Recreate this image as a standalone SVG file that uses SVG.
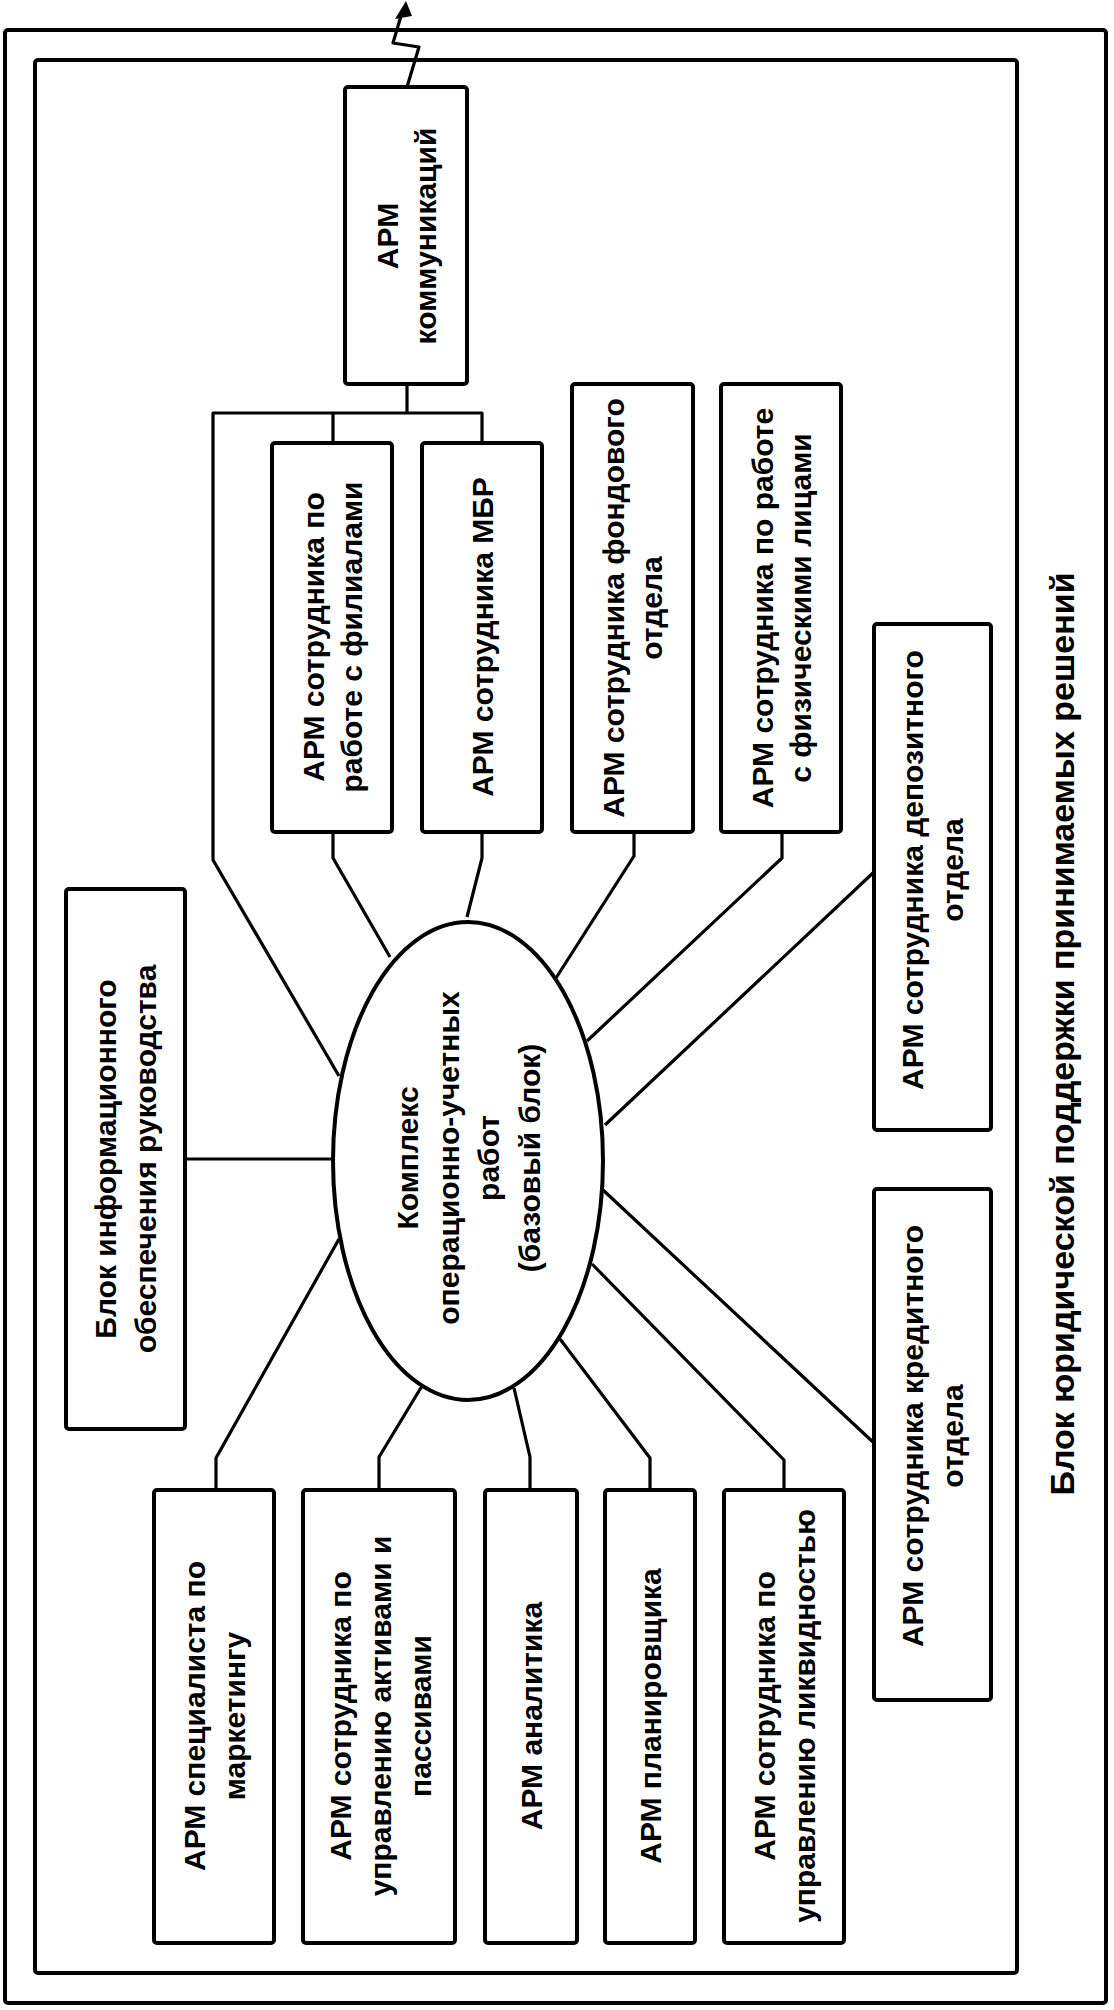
<svg xmlns="http://www.w3.org/2000/svg" width="1114" height="2010" viewBox="0 0 1114 2010">
<style>
.frame{fill:none;stroke:#000;stroke-width:4}
.box{fill:#fff;stroke:#000;stroke-width:4}
.ln{fill:none;stroke:#000;stroke-width:3.2;stroke-linejoin:round}
.t{font-family:"Liberation Sans",Arial,sans-serif;font-weight:bold;font-size:30px;text-anchor:middle;dominant-baseline:central;fill:#000}
.big{font-size:34px}
</style>
<rect width="1114" height="2010" fill="#fff"/>
<g id="frame-outer">
<rect class="frame" x="5" y="30" width="1101" height="1973" rx="3"/>
<text class="t big" transform="translate(1062,1034) rotate(-90)"><tspan x="0" y="0">Блок юридической поддержки принимаемых решений</tspan></text>
</g>
<g id="frame-inner">
<rect class="frame" x="35" y="60" width="982" height="1913" rx="3"/>
</g>
<g id="connectors">
<polyline class="ln" points="407,87 419,47 393,43 401,16"/>
<polygon points="406,1 395,19 412,16" fill="#000"/>
<polyline class="ln" points="407,384 407,413"/>
<polyline class="ln" points="333,443 333,413 213,413 213,860 339,1076"/>
<polyline class="ln" points="333,413 482,413 482,443"/>
<polyline class="ln" points="333,832 333,858 390,957"/>
<polyline class="ln" points="482,832 482,858 467,917"/>
<polyline class="ln" points="634,832 634,856 556,978"/>
<polyline class="ln" points="782,832 782,858 587,1041"/>
<polyline class="ln" points="874,872 605,1125"/>
<polyline class="ln" points="603,1190 874,1443"/>
<polyline class="ln" points="185,1159 333,1159"/>
<polyline class="ln" points="216,1490 216,1458 339,1239"/>
<polyline class="ln" points="379,1490 379,1457 422,1386"/>
<polyline class="ln" points="530,1490 530,1457 514,1388"/>
<polyline class="ln" points="650,1490 650,1458 560,1339"/>
<polyline class="ln" points="784,1490 784,1460 592,1264"/>
</g>
<g id="n-kom">
<rect class="box" x="345" y="87" width="122" height="297" rx="3"/>
<text class="t" transform="translate(406,236) rotate(-90)"><tspan x="0" y="-19">АРМ</tspan><tspan x="0" y="19">коммуникаций</tspan></text>
</g>
<g id="n-fil">
<rect class="box" x="272" y="443" width="120" height="389" rx="3"/>
<text class="t" transform="translate(332,637) rotate(-90)"><tspan x="0" y="-19">АРМ сотрудника по</tspan><tspan x="0" y="19">работе с филиалами</tspan></text>
</g>
<g id="n-mbr">
<rect class="box" x="422" y="443" width="120" height="389" rx="3"/>
<text class="t" transform="translate(482,637) rotate(-90)"><tspan x="0" y="0">АРМ сотрудника МБР</tspan></text>
</g>
<g id="n-fond">
<rect class="box" x="572" y="384" width="121" height="448" rx="3"/>
<text class="t" transform="translate(632,608) rotate(-90)"><tspan x="0" y="-19">АРМ сотрудника фондового</tspan><tspan x="0" y="19">отдела</tspan></text>
</g>
<g id="n-fiz">
<rect class="box" x="721" y="384" width="120" height="448" rx="3"/>
<text class="t" transform="translate(781,608) rotate(-90)"><tspan x="0" y="-19">АРМ сотрудника по работе</tspan><tspan x="0" y="19">с физическими лицами</tspan></text>
</g>
<g id="n-dep">
<rect class="box" x="874" y="624" width="117" height="506" rx="3"/>
<text class="t" transform="translate(932,870) rotate(-90)"><tspan x="0" y="-20">АРМ сотрудника депозитного</tspan><tspan x="0" y="20">отдела</tspan></text>
</g>
<g id="n-kred">
<rect class="box" x="874" y="1189" width="117" height="511" rx="3"/>
<text class="t" transform="translate(932,1436) rotate(-90)"><tspan x="0" y="-20">АРМ сотрудника кредитного</tspan><tspan x="0" y="20">отдела</tspan></text>
</g>
<g id="n-info">
<rect class="box" x="66" y="889" width="119" height="540" rx="3"/>
<text class="t" transform="translate(125,1159) rotate(-90)"><tspan x="0" y="-20">Блок информационного</tspan><tspan x="0" y="20">обеспечения руководства</tspan></text>
</g>
<g id="n-core">
<ellipse cx="468" cy="1161" rx="135" ry="239" fill="#fff" stroke="#000" stroke-width="4"/>
<text class="t" transform="translate(468,1158) rotate(-90)"><tspan x="0" y="-61">Комплекс</tspan><tspan x="0" y="-20">операционно-учетных</tspan><tspan x="0" y="20">работ</tspan><tspan x="0" y="61">(базовый блок)</tspan></text>
</g>
<g id="n-mark">
<rect class="box" x="154" y="1490" width="120" height="453" rx="3"/>
<text class="t" transform="translate(214,1716) rotate(-90)"><tspan x="0" y="-20">АРМ специалиста по</tspan><tspan x="0" y="20">маркетингу</tspan></text>
</g>
<g id="n-aktiv">
<rect class="box" x="303" y="1490" width="152" height="453" rx="3"/>
<text class="t" transform="translate(379,1716) rotate(-90)"><tspan x="0" y="-39">АРМ сотрудника по</tspan><tspan x="0" y="1">управлению активами и</tspan><tspan x="0" y="41">пассивами</tspan></text>
</g>
<g id="n-anal">
<rect class="box" x="485" y="1490" width="92" height="453" rx="3"/>
<text class="t" transform="translate(531,1716) rotate(-90)"><tspan x="0" y="0">АРМ аналитика</tspan></text>
</g>
<g id="n-plan">
<rect class="box" x="605" y="1490" width="90" height="453" rx="3"/>
<text class="t" transform="translate(650,1716) rotate(-90)"><tspan x="0" y="0">АРМ планировщика</tspan></text>
</g>
<g id="n-likv">
<rect class="box" x="724" y="1490" width="120" height="453" rx="3"/>
<text class="t" transform="translate(784,1716) rotate(-90)"><tspan x="0" y="-20">АРМ сотрудника по</tspan><tspan x="0" y="20">управлению ликвидностью</tspan></text>
</g>
</svg>
